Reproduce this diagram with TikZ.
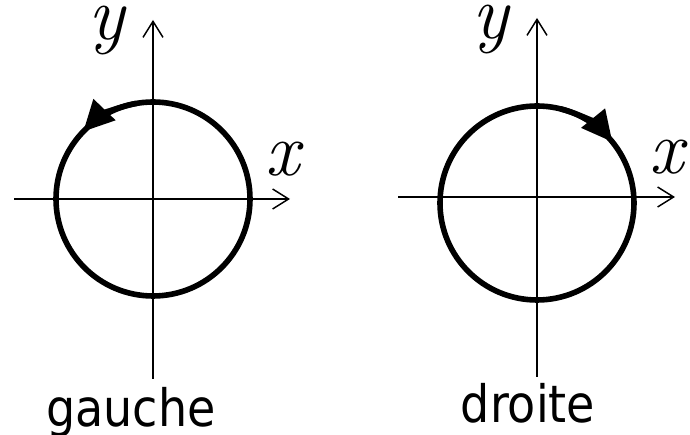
\documentclass[tikz,border=0pt]{standalone}
\usepackage{fontspec}
\usepackage{graphicx}
\newfontfamily\captionfont{DejaVu Sans}
\usetikzlibrary{arrows.meta}
\begin{document}
\begin{tikzpicture}[
	x=0.75pt, y=0.75pt,
	axis/.style={ line width=1.1pt, -{Straight Barb[length=12pt,width=15pt,line width=1.1pt]} },
	orbit/.style={ line width=4.2pt },
	spin/.style={ line width=4.2pt, -{Triangle[length=23pt,width=22pt]} },
	axlabel/.style={ inner sep=0pt, font=\fontsize{57}{60}\selectfont\itshape },
	caption/.style={ inner sep=0pt, anchor=base, font=\captionfont\fontsize{34.5}{40}\selectfont }
]
\useasboundingbox (0,0) rectangle (690,435);

% left: gauche
\coordinate (lo) at (153,236);
\coordinate (lw) at (14,236);
\coordinate (le) at (290,236);
\coordinate (ls) at (153,56);
\coordinate (ln) at (153,415);
\draw[axis] (lw) -- (le);
\draw[axis] (ls) -- (ln);
\draw[orbit] (lo) circle[radius=97];
\draw[spin] ([shift={(100:97)}]lo) arc[start angle=100,end angle=136,radius=97];
\node at (107,404) (ly) [axlabel] {y};
\node at (283,276) (lx) [axlabel] {x};
\node at (131,8) (gauche) [caption] {\scalebox{1}[1.12]{gauche}};

% right: droite
\coordinate (ro) at (537,232);
\coordinate (rw) at (398,238);
\coordinate (re) at (675,238);
\coordinate (rs) at (537,58);
\coordinate (rn) at (537,417);
\draw[axis] (rw) -- (re);
\draw[axis] (rs) -- (rn);
\draw[orbit] (ro) circle[radius=97];
\draw[spin] ([shift={(76:97)}]ro) arc[start angle=76,end angle=39,radius=97];
\node at (491,405) (ry) [axlabel] {y};
\node at (667,277.5) (rx) [axlabel] {x};
\node at (528,12) (droite) [caption] {\scalebox{1}[1.12]{droite}};

\end{tikzpicture}
\end{document}
